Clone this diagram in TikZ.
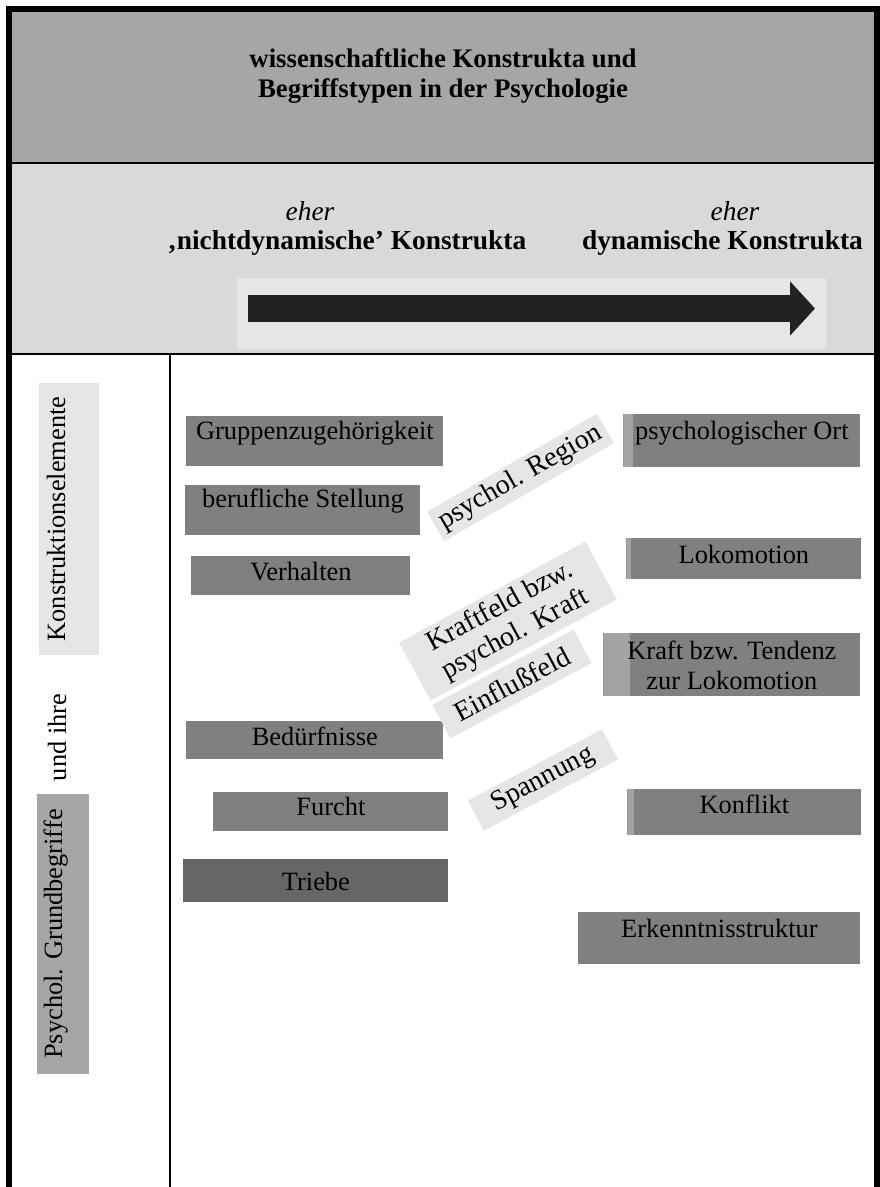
\documentclass[tikz,border=0pt]{standalone}
\usepackage{fontspec}
\setmainfont{Liberation Serif}
\usepackage{tikz}
\usetikzlibrary{arrows.meta}

\definecolor{hdgray}{HTML}{A6A6A6}
\definecolor{subgray}{HTML}{D9D9D9}
\definecolor{palegray}{HTML}{E6E6E6}
\definecolor{boxgray}{HTML}{808080}
\definecolor{darkbox}{HTML}{666666}
\definecolor{stripgray}{HTML}{A3A3A3}
\definecolor{arrowgray}{HTML}{222222}

\begin{document}
\begin{tikzpicture}[x=0.5pt,y=-0.5pt,
	txt/.style={font=\fontsize{13.2}{15}\selectfont},
	cbox/.style={txt,fill=boxgray,inner sep=0pt,anchor=north west},
	tbox/.style={font=\fontsize{14}{15.5}\selectfont,fill=palegray,inner sep=0pt,align=center},
	strip/.style={path picture={\fill[stripgray] (path picture bounding box.north west) rectangle ([xshift=#1]path picture bounding box.south west);}}]
	\useasboundingbox (0,0) rectangle (879,1187);

	% header rows
	\fill[hdgray] (9,9) rectangle (877,163);
	\fill[subgray] (9,163) rectangle (877,354);
	\fill[palegray] (237,278) rectangle (826,349);
	\draw[line width=1.2pt] (9,163) -- (877,163);
	\draw[line width=1.2pt] (9,354) -- (877,354);
	\draw[line width=1pt] (170,354) -- (170,1187);
	\draw[line width=3pt] (9,1187) -- (9,9) -- (877,9) -- (877,1187);

	\node[font=\fontsize{13.4}{15}\selectfont\bfseries,align=center] (title) at (443,76)
		{wissenschaftliche Konstrukta und\\Begriffstypen in der Psychologie};
	\node[font=\fontsize{13.7}{15}\selectfont\itshape,anchor=base] (eherL) at (310,221) {eher};
	\node[font=\fontsize{13.7}{15}\selectfont\bfseries,anchor=base] (nichtdyn) at (347,250) {‚nichtdynamische’ Konstrukta};
	\node[font=\fontsize{13.7}{15}\selectfont\itshape,anchor=base] (eherR) at (735,221) {eher};
	\node[font=\fontsize{13.7}{15}\selectfont\bfseries,anchor=base] (dyn) at (722.5,250) {dynamische Konstrukta};

	\coordinate (arrS) at (248,308.5);
	\coordinate (arrE) at (815,308.5);
	\draw[arrowgray,line width=13.5pt,-{Triangle[length=12.5pt,width=26.5pt]}] (arrS) -- (arrE);

	% left column
	\node[txt,fill=palegray,rotate=90,inner sep=0pt,minimum width=136pt,text height=13pt,text depth=17pt] (konstr) at (69,519) {Konstruktionselemente};
	\node[txt,rotate=90,anchor=base] (undihre) at (66,737.5) {und ihre};
	\node[txt,fill=hdgray,rotate=90,inner sep=0pt,minimum width=140pt,text height=12.5pt,text depth=13.5pt] (grund) at (63,934) {Psychol. Grundbegriffe};

	% nichtdynamische Begriffe
	\node[cbox,minimum width=128.5pt,text height=11.5pt,text depth=13.5pt] (grp) at (186,416) {Gruppenzugehörigkeit};
	\node[cbox,minimum width=117.5pt,text height=11pt,text depth=14pt] (beruf) at (185,485) {berufliche Stellung};
	\node[cbox,minimum width=109.5pt,text height=12pt,text depth=7.5pt] (verh) at (191,556) {Verhalten};
	\node[cbox,minimum width=128.5pt,text height=12pt,text depth=7pt] (bed) at (186,721) {Bedürfnisse};
	\node[cbox,minimum width=117.5pt,text height=11.5pt,text depth=8pt] (furcht) at (213,792) {Furcht};
	\node[cbox,fill=darkbox,minimum width=132.5pt,text height=15.5pt,text depth=6pt] (triebe) at (183,859) {Triebe};

	% schraege Felder
	\node[tbox,rotate=30,minimum width=98pt,minimum height=17pt] (region) at (520.5,477.5) {psychol. Region};
	\node[tbox,rotate=28.5,minimum width=106pt,minimum height=33pt] (kfeld) at (508,621) {Kraftfeld bzw.\\psychol. Kraft};
	\node[tbox,rotate=28,minimum width=80pt,minimum height=19pt] (einfl) at (512,684) {Einflußfeld};
	\node[tbox,rotate=28,minimum width=76pt,minimum height=17pt] (spann) at (543,780) {Spannung};

	% dynamische Begriffe
	\node[cbox,strip=5pt,minimum width=118.5pt,text height=12.5pt,text depth=14pt] (ort) at (623,414) {psychologischer Ort};
	\node[cbox,strip=2.5pt,minimum width=117.5pt,text height=12.5pt,text depth=8pt] (loko) at (626,538) {Lokomotion};
	\node[cbox,strip=13.5pt,align=center,minimum width=128.5pt,minimum height=31.5pt] (kraft) at (603,633) {Kraft bzw. Tendenz\\zur Lokomotion};
	\node[cbox,strip=3.5pt,minimum width=117pt,text height=12pt,text depth=11pt] (konf) at (627,789) {Konflikt};
	\node[cbox,minimum width=141pt,text height=12.5pt,text depth=13.5pt] (erk) at (578,912) {Erkenntnisstruktur};
\end{tikzpicture}
\end{document}
